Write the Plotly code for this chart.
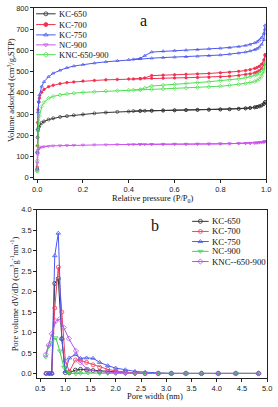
import plotly.graph_objects as go

# ---------------- Panel a: N2 isotherms ----------------
P_ads = [0.0005, 0.001, 0.002, 0.004, 0.007, 0.01, 0.02, 0.03, 0.05, 0.07, 0.1, 0.13, 0.16, 0.2,
         0.25, 0.3, 0.35, 0.4, 0.45, 0.5, 0.55, 0.6, 0.65, 0.7, 0.75, 0.8, 0.84, 0.88, 0.91, 0.93,
         0.95, 0.96, 0.97, 0.98, 0.99, 0.995]
P_des = [0.995, 0.99, 0.98, 0.97, 0.96, 0.95, 0.93, 0.91, 0.88, 0.84, 0.8, 0.75, 0.7, 0.65, 0.6,
         0.55, 0.5, 0.47, 0.45, 0.42]

kc650_ads = [40, 120, 190, 225, 238, 245, 258, 265, 274, 280, 286, 290, 294, 298, 303, 307, 310, 312,
             314, 315, 316, 317, 318, 319, 320, 321, 322, 324, 326, 328, 331, 333, 336, 340, 347, 356]
kc650_des = [356, 348, 341, 337, 334, 332, 329, 327, 325, 323, 322, 321, 320, 319, 318, 317, 316, 315,
             315, 314]
kc700_ads = [50, 150, 260, 320, 355, 375, 403, 416, 429, 436, 443, 448, 451, 455, 458, 461, 463, 465,
             466, 468, 469, 470, 471, 472, 473, 475, 478, 482, 486, 489, 494, 498, 504, 515, 535, 575]
kc700_des = [580, 555, 535, 525, 519, 515, 509, 505, 501, 497, 494, 491, 489, 487, 485, 483, 481, 470,
             467, 465]
kc750_ads = [40, 120, 230, 310, 360, 390, 430, 452, 476, 492, 506, 518, 526, 533, 540, 546, 551, 556,
             560, 563, 566, 568, 570, 572, 575, 578, 582, 587, 592, 597, 603, 608, 615, 628, 650, 700]
kc750_des = [718, 680, 660, 648, 640, 635, 628, 623, 618, 613, 610, 607, 604, 601, 599, 596, 592, 575,
             562, 558]
nc900_ads = [30, 70, 110, 130, 137, 140, 144, 146, 148, 150, 151, 152, 153, 154, 155, 155, 156, 156,
             157, 157, 157, 158, 158, 158, 159, 159, 160, 161, 162, 162, 163, 164, 165, 166, 168, 170]
nc900_des = [171, 168, 167, 166, 165, 164, 163, 162, 161, 160, 160, 159, 159, 158, 158, 158, 157, 157,
             157, 157]
knc_ads = [30, 80, 150, 220, 265, 290, 335, 355, 374, 383, 390, 395, 398, 402, 405, 408, 410, 412,
           414, 416, 418, 420, 422, 425, 428, 431, 435, 440, 444, 448, 453, 458, 465, 478, 500, 535]
knc_des = [540, 515, 500, 492, 486, 482, 476, 471, 466, 461, 457, 452, 448, 444, 440, 436, 432, 422,
           415, 413]

names_a = ["KC-650", "KC-700", "KC-750", "NC-900", "KNC-650-900"]
ads_a = [kc650_ads, kc700_ads, kc750_ads, nc900_ads, knc_ads]
des_a = [kc650_des, kc700_des, kc750_des, nc900_des, knc_des]

# ---------------- Panel b: pore size distribution ----------------
D_kc = [0.62, 0.68, 0.73, 0.79, 0.86, 0.93, 1.0, 1.08, 1.2, 1.3, 1.42, 1.55, 1.68, 1.84, 2.0,
        2.19, 2.38, 2.58, 2.84, 3.1, 3.39, 3.7, 4.03, 4.38, 4.83]
D_nc = [0.61, 0.67, 0.73, 0.81, 0.89, 0.97, 1.07, 1.21, 1.3, 1.45, 1.68, 1.84, 2.0, 2.19, 2.38,
        2.58, 2.84, 3.1, 3.39, 3.7, 4.03, 4.38, 4.83]
psd_kc650 = [0, 0, 0, 2.2, 2.32, 0.85, 0.02, 0.02, 0.08, 0.1, 0.09, 0.07, 0.05, 0.04, 0.03, 0.02,
             0.01, 0, 0, 0, 0, 0, 0, 0, 0]
psd_kc700 = [0, 0, 0, 1.6, 2.6, 1.5, 0.3, 0.05, 0.33, 0.32, 0.27, 0.21, 0.15, 0.1, 0.06, 0.03,
             0.01, 0, 0, 0, 0, 0, 0, 0, 0]
psd_kc750 = [0, 0, 0, 2.88, 3.43, 0.85, 0.05, 0.38, 0.46, 0.37, 0.38, 0.37, 0.27, 0.19, 0.13, 0.09,
             0.05, 0.03, 0.01, 0, 0, 0, 0, 0, 0]
psd_nc900 = [0.4, 0.66, 0.76, 0.87, 0.55, 0.15, 0.0, -0.01, 0.0, 0.01, 0.0, 0, 0, 0, 0,
             0, 0, 0, 0, 0, 0, 0, 0]
psd_knc = [0.46, 0.69, 0.97, 1.28, 1.33, 1.12, 0.85, 0.55, 0.27, 0.09, 0.04, 0.03, 0.02, 0.01, 0.0,
           0, 0, 0, 0, 0, 0, 0, 0]

names_b = ["KC-650", "KC-700", "KC-750", "NC-900", "KNC--650-900"]
x_b = [D_kc, D_kc, D_kc, D_nc, D_nc]
y_b = [psd_kc650, psd_kc700, psd_kc750, psd_nc900, psd_knc]

yticks_a = [0, 100, 200, 300, 400, 500, 600, 700, 800]
xticks_a = [0.0, 0.2, 0.4, 0.6, 0.8, 1.0]
yticks_b = [0.0, 0.5, 1.0, 1.5, 2.0, 2.5, 3.0, 3.5, 4.0]
xticks_b = [0.5, 1.0, 1.5, 2.0, 2.5, 3.0, 3.5, 4.0, 4.5, 5.0]

# ---------------- styles ----------------
W, H = 278, 407
SERIF = "Liberation Serif, Times New Roman, serif"
TICKF = "Liberation Sans Narrow, Arial Narrow, Liberation Sans, sans-serif"
col_a = ["#333333", "#f03050", "#4a58f0", "#cc50ee", "#50e050"]
sym_a = ["circle-open", "circle", "triangle-up-open", "triangle-down-open", "diamond-open"]
col_b = ["#333333", "#f04060", "#4a58f0", "#40d050", "#b850f0"]
sym_b = ["circle-open", "circle-open", "triangle-up-open", "triangle-down-open", "diamond-open"]

fig = go.Figure()

for i in range(5):
    for xs, ys in ((P_ads, ads_a[i]), (P_des, des_a[i])):
        fig.add_trace(go.Scatter(
            x=xs, y=ys, mode="lines+markers", xaxis="x", yaxis="y", showlegend=False,
            line=dict(color=col_a[i], width=1),
            marker=dict(symbol=sym_a[i], size=3 if i != 1 else 2.5, color=col_a[i],
                        line=dict(width=0.7, color=col_a[i]))))

for i in range(5):
    fig.add_trace(go.Scatter(
        x=x_b[i], y=y_b[i], mode="lines+markers", xaxis="x2", yaxis="y2", showlegend=False,
        line=dict(color=col_b[i], width=1),
        marker=dict(symbol=sym_b[i], size=4, color=col_b[i],
                    line=dict(width=0.8, color=col_b[i]))))

# ---------------- custom legends (pixel overlay axes) ----------------
leg_a_rows = [10, 21, 31.5, 41.7, 51.7]
leg_b_rows = [221.7, 232, 242.3, 252.3, 262.7]
annotations = []
for rows, x0, x1, cols, syms, names, fs in (
        (leg_a_rows, 35, 55, col_a, sym_a, names_a, 8.6),
        (leg_b_rows, 195, 212, col_b, sym_b, names_b, 8.8)):
    for i in range(5):
        fig.add_trace(go.Scatter(
            x=[x0, x1], y=[rows[i], rows[i]], mode="lines", xaxis="x3", yaxis="y3",
            showlegend=False, hoverinfo="skip", line=dict(color=cols[i], width=1)))
        fig.add_trace(go.Scatter(
            x=[(x0 + x1) / 2], y=[rows[i]], mode="markers", xaxis="x3", yaxis="y3",
            showlegend=False, hoverinfo="skip",
            marker=dict(symbol=syms[i], size=4, color=cols[i], line=dict(width=0.8, color=cols[i]))))
        annotations.append(dict(x=x1 + 1.5, y=rows[i], xref="x3", yref="y3", text=names[i],
                                showarrow=False, xanchor="left", yanchor="middle",
                                font=dict(family=SERIF, size=fs, color="#111")))

# panel letters and axis titles
annotations += [
    dict(x=145, y=17, xref="x3", yref="y3", text="a", showarrow=False,
         font=dict(family=SERIF, size=16, color="#111")),
    dict(x=157, y=226, xref="x3", yref="y3", text="b", showarrow=False,
         font=dict(family=SERIF, size=16, color="#111")),
    dict(x=155, y=198.5, xref="x3", yref="y3", text="Relative pressure (P/P<sub>0</sub>)",
         showarrow=False, font=dict(family=SERIF, size=8.5, color="#111")),
    dict(x=157, y=399.5, xref="x3", yref="y3", text="Pore width (nm)",
         showarrow=False, font=dict(family=SERIF, size=8.5, color="#111")),
    dict(x=9, y=88, xref="x3", yref="y3", text="Volume adsorbed (cm<sup>3</sup>/g,STP)",
         textangle=-90, showarrow=False, font=dict(family=SERIF, size=8.5, color="#111")),
    dict(x=12.5, y=296, xref="x3", yref="y3",
         text="Pore volume dV/dD (cm<sup>3</sup>g<sup>-1</sup>nm<sup>-1</sup>)",
         textangle=-90, showarrow=False, font=dict(family=SERIF, size=8.5, color="#111")),
]

axis_common = dict(showgrid=False, zeroline=False, showline=True, linecolor="#222", linewidth=1,
                   mirror=True, ticks="outside", ticklen=3, tickwidth=1, tickcolor="#222",
                   tickfont=dict(family=TICKF, size=7.5, color="#222"), tickformat=".1f")

fig.update_layout(
    width=W, height=H, margin=dict(l=0, r=0, t=0, b=0),
    paper_bgcolor="white", plot_bgcolor="rgba(0,0,0,0)", showlegend=False,
    xaxis=dict(axis_common, domain=[33 / W, 271 / W], range=[-0.013, 1.0],
               tickvals=xticks_a, anchor="y"),
    yaxis=dict(axis_common, domain=[1 - 178 / H, 1 - 4 / H], range=[-4, 800],
               tickvals=yticks_a, tickformat="d", anchor="x"),
    xaxis2=dict(axis_common, domain=[36 / W, 272 / W], range=[0.44, 5.0],
                tickvals=xticks_b, anchor="y2"),
    yaxis2=dict(axis_common, domain=[1 - 381 / H, 1 - 210 / H], range=[-0.1, 4.0],
                tickvals=yticks_b, anchor="x2"),
    xaxis3=dict(domain=[0, 1], range=[0, W], visible=False, fixedrange=True, anchor="y3"),
    yaxis3=dict(domain=[0, 1], range=[H, 0], visible=False, fixedrange=True, anchor="x3"),
    annotations=annotations,
)

fig.write_html("out.html", config={"displayModeBar": False},
               post_script="document.body.style.margin='0px';"
                           "document.body.style.overflow='hidden';")
